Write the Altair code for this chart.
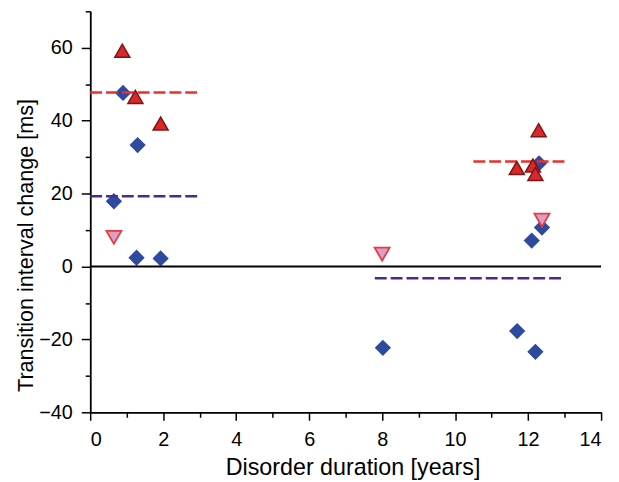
import altair as alt
import pandas as pd

# Blue diamonds
dia_x = [0.9, 1.3, 0.65, 1.27, 1.93, 8.02, 11.7, 12.2, 12.1, 12.38, 12.3]
dia_y = [47.6, 33.3, 17.9, 2.4, 2.2, -22.3, -17.7, -23.4, 7.1, 10.7, 28.3]
# Red up-triangles
up_x = [0.88, 1.24, 1.93, 12.29, 11.69, 12.13, 12.2]
up_y = [59.2, 46.5, 39.2, 37.4, 27.0, 27.7, 25.4]
# Pink down-triangles
down_x = [0.65, 8.0, 12.38]
down_y = [8.0, 3.4, 12.7]
# Mean lines
red_x1 = [0, 10.5]
red_x2 = [3, 13]
red_y = [47.7, 28.8]
pur_x1 = [0, 7.8]
pur_x2 = [3, 13]
pur_y = [19.3, -3.2]

x_major = [0, 2, 4, 6, 8, 10, 12, 14]
x_minor = [1, 3, 5, 7, 9, 11, 13]
y_major = [-40, -20, 0, 20, 40, 60]
y_minor = [-30, -10, 10, 30, 50, 70]

W, H = 516, 405
xs = alt.Scale(domain=[0, 14], nice=False)
ys = alt.Scale(domain=[-40, 70], nice=False)

dia = pd.DataFrame({"x": dia_x, "y": dia_y})
up = pd.DataFrame({"x": up_x, "y": up_y})
down = pd.DataFrame({"x": down_x, "y": down_y})
red = pd.DataFrame({"x1": red_x1, "x2": red_x2, "y": red_y})
pur = pd.DataFrame({"x1": pur_x1, "x2": pur_x2, "y": pur_y})

font = "Liberation Sans"

diamonds = alt.Chart(dia).mark_point(
    shape="diamond", filled=True, size=270, color="#2e4a9e", opacity=1
).encode(
    x=alt.X("x:Q", scale=xs, axis=alt.Axis(
        values=x_major, tickSize=8, orient="bottom", labelPadding=10,
        title="Disorder duration [years]", titleFontSize=23.5,
        titleX=265, titleY=63, titleBaseline="alphabetic")),
    y=alt.Y("y:Q", scale=ys, axis=alt.Axis(
        values=y_major, tickSize=9, orient="left", labelPadding=9,
        title="Transition interval change [ms]", titleFontSize=21.8,
        titleX=-53, titleY=236)),
)

minor_axes = alt.Chart(dia).mark_point(opacity=0).encode(
    x=alt.X("x:Q", scale=xs, title=None,
            axis=alt.Axis(values=x_minor, tickSize=5, labels=False, orient="bottom")),
    y=alt.Y("y:Q", scale=ys, title=None,
            axis=alt.Axis(values=y_minor, tickSize=5, labels=False, orient="left")),
)

red_lines = alt.Chart(red).mark_rule(
    color="#e8302c", strokeWidth=2.5, strokeDash=[12, 4]
).encode(x=alt.X("x1:Q", scale=xs, axis=None), x2="x2:Q",
         y=alt.Y("y:Q", scale=ys, axis=None))

pur_lines = alt.Chart(pur).mark_rule(
    color="#4a2a8c", strokeWidth=2.5, strokeDash=[12, 4]
).encode(x=alt.X("x1:Q", scale=xs, axis=None), x2="x2:Q",
         y=alt.Y("y:Q", scale=ys, axis=None))

ups = alt.Chart(up).mark_point(
    shape="triangle-up", filled=True, size=230, fill="#d8282a",
    stroke="#7e1416", strokeWidth=1.5, opacity=1
).encode(x=alt.X("x:Q", scale=xs, axis=None), y=alt.Y("y:Q", scale=ys, axis=None))

downs = alt.Chart(down).mark_point(
    shape="triangle-down", filled=True, size=230, fill="#d9a0c6",
    stroke="#e83a3a", strokeWidth=1.8, opacity=1
).encode(x=alt.X("x:Q", scale=xs, axis=None), y=alt.Y("y:Q", scale=ys, axis=None))

zero = alt.Chart(pd.DataFrame({"y": [0]})).mark_rule(color="black", strokeWidth=2).encode(
    y=alt.Y("y:Q", scale=ys, axis=None), x=alt.value(0), x2=alt.value(W)
)

chart = alt.layer(
    minor_axes, diamonds, red_lines, pur_lines, downs, ups, zero
).resolve_axis(x="independent", y="independent").properties(
    width=W, height=H,
    autosize=alt.AutoSizeParams(type="none"),
    padding={"left": 83, "top": 1, "right": 10, "bottom": 66},
).configure_view(stroke=None).configure_axis(
    grid=False,
    domainColor="black", domainWidth=1.5,
    tickColor="black", tickWidth=1.5,
    labelFont=font, labelFontSize=20, labelColor="black",
    titleFont=font, titleColor="black", titleFontWeight="normal",
)

chart.save("out.html", embed_options={"renderer": "svg", "actions": False})
